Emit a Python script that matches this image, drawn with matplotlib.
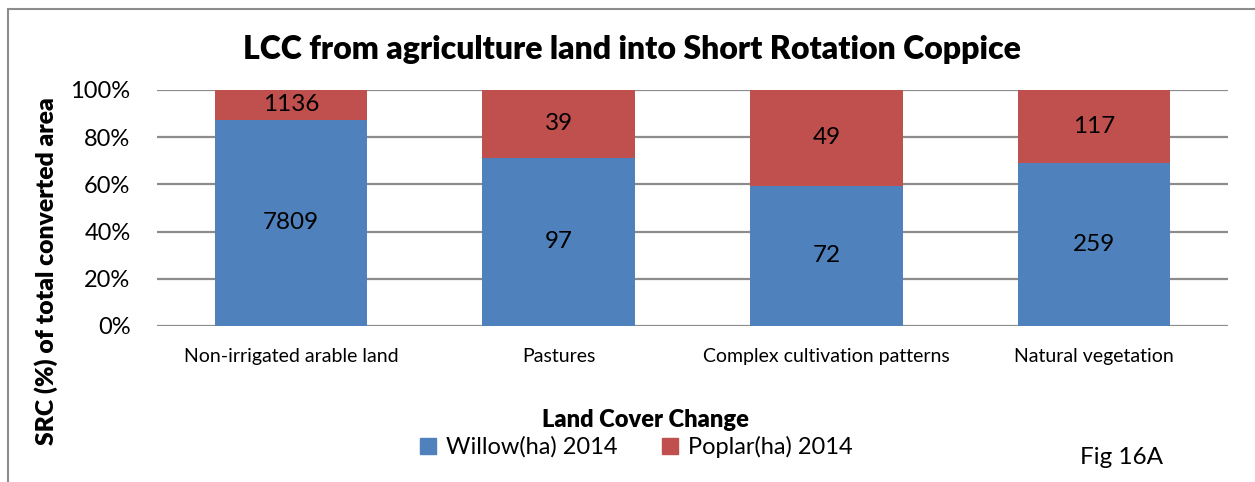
import matplotlib.pyplot as plt
import matplotlib.patches as mpatches
import numpy as np

plt.rcParams["font.family"] = ["Lato", "DejaVu Sans"]

categories = ["Non-irrigated arable land", "Pastures", "Complex cultivation patterns", "Natural vegetation"]
willow_ha = [7809, 97, 72, 259]
poplar_ha = [1136, 39, 49, 117]

willow = np.array(willow_ha, dtype=float)
poplar = np.array(poplar_ha, dtype=float)
total = willow + poplar
willow_pct = willow / total * 100
poplar_pct = poplar / total * 100

blue = "#4F81BD"
red = "#C0504D"

fig = plt.figure(figsize=(12.55, 4.82), dpi=100)
ax = fig.add_axes([157 / 1255, 1 - 326 / 482, (1228 - 157) / 1255, (326 - 90) / 482])

x = np.arange(len(categories))
ax.bar(x, willow_pct, width=0.57, color=blue, label="Willow(ha) 2014", zorder=2)
ax.bar(x, poplar_pct, width=0.57, bottom=willow_pct, color=red, label="Poplar(ha) 2014", zorder=2)

for i in range(len(categories)):
    ax.text(x[i], willow_pct[i] / 2, str(willow_ha[i]), ha="center", va="center", fontsize=17.5, color="black", zorder=3)
    ax.text(x[i], willow_pct[i] + poplar_pct[i] / 2, str(poplar_ha[i]), ha="center", va="center", fontsize=17.5, color="black", zorder=3)

ax.set_xlim(-0.5, len(categories) - 0.5)
ax.set_ylim(0, 100)
ax.set_yticks(np.arange(0, 101, 20))
ax.set_yticklabels([f"{v}%" for v in range(0, 101, 20)], fontsize=17)
ax.set_xticks(x)
ax.set_xticklabels(categories, fontsize=14)
ax.tick_params(axis="y", length=0, pad=19)
ax.tick_params(axis="x", length=0, pad=16)
ax.yaxis.grid(True, color="#8c8c8c", linewidth=1.6, zorder=0)
for s in ax.spines.values():
    s.set_visible(False)

ax.set_ylabel("SRC (%) of total converted area", fontsize=17.8, fontweight="heavy")
ax.yaxis.set_label_coords(-0.092, 0.233)

fig.text(632 / 1255, 1 - 50 / 482, "LCC from agriculture land into Short Rotation Coppice",
         ha="center", va="center", fontsize=23, fontweight="heavy")
fig.text(645 / 1255, 1 - 420 / 482, "Land Cover Change", ha="center", va="center",
         fontsize=17, fontweight="heavy")
fig.text(1122 / 1255, 1 - 458 / 482, "Fig 16A", ha="center", va="center", fontsize=17.5)

handles = [mpatches.Patch(color=blue, label="Willow(ha) 2014"),
           mpatches.Patch(color=red, label="Poplar(ha) 2014")]
fig.legend(handles=handles, loc="center", bbox_to_anchor=(636 / 1255, 1 - 447 / 482), ncol=2,
           frameon=False, fontsize=17, handlelength=0.7, handleheight=0.7, handletextpad=0.4,
           columnspacing=1.9)

frame = mpatches.Rectangle((8 / 1255, -0.1), 1.2, 1 - 9 / 482 + 0.1, transform=fig.transFigure,
                           fill=False, edgecolor="#8c8c8c", linewidth=1.5, clip_on=False)
fig.patches.append(frame)

fig.savefig("out.png", dpi=100)
